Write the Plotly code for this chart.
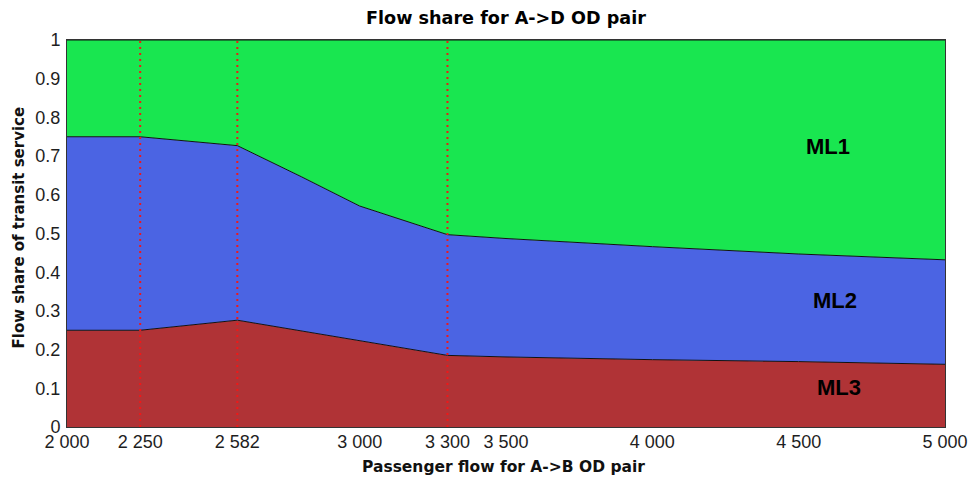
import plotly.graph_objects as go

# Data
flow = [2000, 2250, 2582, 2800, 3000, 3150, 3300, 3500, 4000, 4500, 5000]
ml3 = [0.250, 0.250, 0.276, 0.248, 0.223, 0.204, 0.185, 0.181, 0.174, 0.169, 0.162]
ml2 = [0.500, 0.500, 0.451, 0.399, 0.348, 0.329, 0.312, 0.306, 0.292, 0.278, 0.270]
ml1 = [0.250, 0.250, 0.273, 0.353, 0.429, 0.467, 0.503, 0.513, 0.534, 0.553, 0.568]
marker_flows = [2250, 2582, 3300]
tick_vals = [2000, 2250, 2582, 3000, 3300, 3500, 4000, 4500, 5000]
tick_text = ["2 000", "2 250", "2 582", "3 000", "3 300",
             "3 500", "4 000", "4 500", "5 000"]
y_ticks = [0, 0.1, 0.2, 0.3, 0.4, 0.5, 0.6, 0.7, 0.8, 0.9, 1]
y_text = ["0", "0.1", "0.2", "0.3", "0.4", "0.5", "0.6", "0.7", "0.8", "0.9", "1"]
labels = ["ML1", "ML2", "ML3"]
label_x = [4600, 4624, 4638]
label_y = [0.724, 0.326, 0.103]

fig = go.Figure()
series = [("ML3", ml3, "#B03336"), ("ML2", ml2, "#4B64E3"), ("ML1", ml1, "#19E650")]
for name, vals, col in series:
    fig.add_trace(go.Scatter(
        x=flow, y=vals, name=name, stackgroup="one", mode="lines",
        line=dict(color="#111111", width=1), fillcolor=col,
    ))

for xv in marker_flows:
    fig.add_trace(go.Scatter(
        x=[xv, xv], y=[0, 1], mode="lines",
        line=dict(color="#F01818", width=2, dash="2px,4px"), showlegend=False,
    ))

for t, xv, yv in zip(labels, label_x, label_y):
    fig.add_annotation(x=xv, y=yv, text="<b>" + t + "</b>", showarrow=False,
                       font=dict(family="Liberation Sans", size=22, color="black"))

# axis titles as annotations for precise placement
fig.add_annotation(xref="paper", yref="paper", x=0.497, y=0, yshift=-40,
                   xanchor="center", yanchor="middle", showarrow=False,
                   text="<b>Passenger flow for A->B OD pair</b>",
                   font=dict(family="DejaVu Sans", size=15.5, color="#111111"))
fig.add_annotation(xref="paper", yref="paper", x=0, y=0.5, xshift=-49, yshift=6,
                   xanchor="center", yanchor="middle", showarrow=False, textangle=-90,
                   text="<b>Flow share of transit service</b>",
                   font=dict(family="DejaVu Sans", size=15, color="#111111"))

fig.update_layout(
    width=970, height=478,
    margin=dict(l=67, r=25, t=40, b=51),
    paper_bgcolor="white", plot_bgcolor="white",
    showlegend=False,
    title=dict(text="<b>Flow share for A->D OD pair</b>", xref="paper", x=0.5,
               xanchor="center", yref="container", y=1 - 17.5 / 478, yanchor="middle",
               font=dict(family="DejaVu Sans", size=17.6, color="black")),
    font=dict(family="Liberation Sans", size=18, color="#1e1e1e"),
)
fig.update_xaxes(
    range=[2000, 5000], tickvals=tick_vals, ticktext=tick_text, automargin=False,
    showgrid=False, zeroline=False, showline=True, mirror=True,
    linecolor="#333333", linewidth=1, ticks="", ticklabelstandoff=-2,
)
fig.update_yaxes(
    range=[0, 1], tickvals=y_ticks, ticktext=y_text, automargin=False,
    showgrid=False, zeroline=False, showline=True, mirror=True,
    linecolor="#333333", linewidth=1, ticks="", ticklabelstandoff=2,
)

fig.write_html("out.html", config={"displayModeBar": False},
               post_script="document.body.style.margin='0';")
